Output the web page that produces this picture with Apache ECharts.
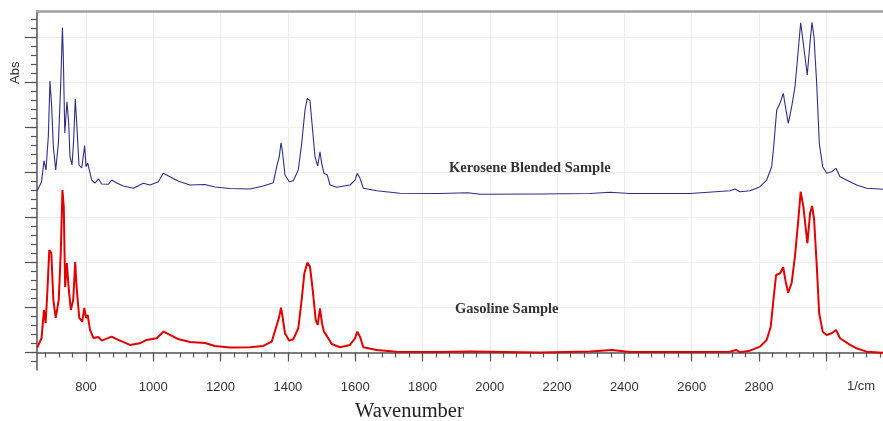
<!DOCTYPE html>
<html>
<head>
<meta charset="utf-8">
<script src="https://cdn.jsdelivr.net/npm/echarts@6/dist/echarts.min.js"></script>
<style>html,body{margin:0;padding:0;background:#fff;}#c{width:883px;height:421px;}</style>
</head>
<body>
<div id="c"></div>
<script>
// Wavenumber (1/cm) and absorbance (arbitrary offset units)
const keroseneWn = [655,668,675,681,688,693,698,703,710,718,725,730,732.5,737,743.5,748.6,752.4,758.4,763.4,768.2,772.4,779.2,787.2,796.1,800,805,809.8,816.9,826.7,837.7,846.7,866.3,876.4,891.2,910.9,940.6,970.3,990.2,1014.9,1029.7,1049.6,1073.4,1109,1153.7,1183.4,1228,1287.4,1327,1356.7,1366.8,1374.5,1379.5,1383.4,1391.4,1404.2,1416.1,1430.9,1441.1,1450.9,1457.7,1465.7,1472.6,1480.6,1488.6,1495.4,1500.5,1507.3,1517.2,1525.2,1545.1,1584.6,1599.5,1606.3,1614.3,1624.2,1663.9,1733.2,1852,1935.3,1971,2149,2297.9,2357.3,2416.8,2595,2714,2728.9,2743.7,2773.4,2803.1,2823,2837.9,2844.7,2852.8,2862.6,2872.4,2880.4,2887.2,2897.3,2907.1,2916.9,2924,2931.8,2943.6,2951.7,2957.6,2963.6,2971.6,2979.4,2989.5,3001.4,3016.3,3029,3040.9,3070.6,3090.5,3120.3,3168.7];
const keroseneAbs = [3.596,3.796,4.262,4.056,4.796,6.033,5.462,4.573,4.056,4.656,5.989,7.218,6.611,4.878,5.573,5.1,4.351,4.167,4.722,5.633,5.1,4.167,4.1,4.596,4.129,4.211,4.056,3.833,3.767,3.856,3.744,3.738,3.833,3.767,3.7,3.649,3.76,3.722,3.796,3.982,3.907,3.811,3.722,3.733,3.678,3.644,3.633,3.7,3.773,4.129,4.351,4.662,4.5,3.944,3.796,3.818,4.056,4.649,5.389,5.649,5.596,5.018,4.351,4.144,4.462,4.204,3.982,3.944,3.722,3.671,3.722,3.833,3.982,3.871,3.649,3.596,3.538,3.533,3.551,3.516,3.522,3.533,3.56,3.533,3.533,3.596,3.633,3.573,3.596,3.684,3.833,4.129,4.649,5.389,5.538,5.76,5.389,5.093,5.462,5.907,6.722,7.329,6.871,6.167,6.871,7.338,7.018,5.982,4.649,4.129,3.982,4.018,4.093,3.907,3.796,3.722,3.649,3.627];
const gasolineWn = [655,668,675,680,685,691,697,703,710,719,725,730,734,738,743,749,755,762,768,772,780,789,795,800,805,812,822,837,847,876,896,931,960,980,1010,1030,1050,1073,1109,1154,1183,1228,1287,1327,1352,1365,1374.5,1379.5,1383.4,1391.4,1404,1416,1431,1441,1449,1457.7,1465.7,1473.8,1482.7,1488.6,1495.4,1501.4,1507.3,1517.2,1530.3,1555,1584.6,1599.5,1606.3,1614.3,1624.2,1664,1723,1852,1941,2149,2298,2363,2417,2595,2714,2732,2744,2773,2803,2823,2835,2843,2851,2863,2872,2879.5,2887,2897,2907,2917,2924,2932,2944,2952,2958,2964,2972,2979,2989.5,3001,3016,3029,3041,3071,3090,3120,3169];
const gasolineAbs = [0.107,0.322,0.944,0.656,1.322,2.278,2.211,1.167,0.767,1.167,2.211,3.611,3.233,1.456,1.989,1.389,0.944,1.167,2.011,1.456,0.767,0.684,0.989,0.767,0.833,0.5,0.322,0.344,0.262,0.351,0.278,0.167,0.204,0.278,0.316,0.462,0.389,0.3,0.233,0.211,0.144,0.111,0.116,0.144,0.24,0.56,0.796,0.996,0.833,0.427,0.262,0.293,0.538,1.167,1.76,1.996,1.907,1.389,0.722,0.611,0.982,0.649,0.462,0.351,0.189,0.116,0.167,0.316,0.462,0.351,0.116,0.056,0.018,0.011,0.022,0,0.022,0.056,0.011,0.011,0.018,0.056,0.004,0.04,0.129,0.278,0.573,1.167,1.722,1.76,1.893,1.573,1.329,1.538,2.129,2.944,3.573,3.24,2.427,3.093,3.256,2.944,1.907,0.871,0.462,0.389,0.427,0.5,0.316,0.167,0.093,0.018,-0.004];
// Axis ticks
const xMajorTicks = [800,1000,1200,1400,1600,1800,2000,2200,2400,2600,2800,3000];
const xTickLabels = [800,1000,1200,1400,1600,1800,2000,2200,2400,2600,2800];
const xMinorTicks = [];
for (let v = 680; v <= 3160; v += 40) xMinorTicks.push(v);
const yMajorTicks = [0,1,2,3,4,5,6,7];
const yMinorTicks = [];
for (let i = -1; i <= 37; i++) yMinorTicks.push(Math.round(i * 0.2 * 10) / 10);

const X_MIN = 654.4, X_MAX = 3168.7, Y_MIN = -0.39, Y_MAX = 7.59;

const zip = (a, b) => a.map((v, i) => [v, b[i]]);

const chart = echarts.init(document.getElementById('c'), null, {renderer: 'canvas'});
const axisColor = '#555';
chart.setOption({
  animation: false,
  backgroundColor: '#fff',
  grid: {left: 37, right: 0, top: 11, bottom: 51},
  xAxis: [
    {type: 'value', min: X_MIN, max: X_MAX, position: 'bottom',
     axisLine: {show: true, lineStyle: {color: axisColor, width: 1.5}},
     axisTick: {show: true, customValues: xMinorTicks, length: 5, lineStyle: {color: axisColor, width: 1.2}},
     axisLabel: {show: false}, splitLine: {show: false}},
    {type: 'value', min: X_MIN, max: X_MAX, position: 'bottom',
     axisLine: {show: false},
     axisTick: {show: true, customValues: xMajorTicks, length: 9, lineStyle: {color: axisColor, width: 1.2}},
     axisLabel: {show: true, customValues: xTickLabels, formatter: v => String(v), color: '#333', fontSize: 13, fontFamily: 'Liberation Sans, Arial, sans-serif', margin: 11},
     splitLine: {show: true, lineStyle: {color: '#eeeef3', width: 1}}},
    {type: 'value', min: X_MIN, max: X_MAX, position: 'top',
     axisLine: {show: true, lineStyle: {color: '#a0a0a0', width: 2.5}},
     axisTick: {show: false}, axisLabel: {show: false}, splitLine: {show: false}}
  ],
  yAxis: [
    {type: 'value', min: Y_MIN, max: Y_MAX, position: 'left',
     axisLine: {show: true, lineStyle: {color: axisColor, width: 1.5}},
     axisTick: {show: true, customValues: yMinorTicks, length: 6, lineStyle: {color: axisColor, width: 1.2}},
     axisLabel: {show: false}, splitLine: {show: false}},
    {type: 'value', min: Y_MIN, max: Y_MAX, position: 'left',
     axisLine: {show: false},
     axisTick: {show: true, customValues: yMajorTicks, length: 12, lineStyle: {color: axisColor, width: 1.2}},
     axisLabel: {show: false},
     splitLine: {show: true, lineStyle: {color: '#eeeef3', width: 1}}}
  ],
  series: [
    {type: 'line', name: 'Kerosene Blended Sample', xAxisIndex: 0, yAxisIndex: 0,
     data: zip(keroseneWn, keroseneAbs), showSymbol: false, symbol: 'none',
     lineStyle: {color: '#2e2e88', width: 1.1}, clip: true, z: 3},
    {type: 'line', name: 'Gasoline Sample', xAxisIndex: 0, yAxisIndex: 0,
     data: zip(gasolineWn, gasolineAbs), showSymbol: false, symbol: 'none',
     lineStyle: {color: '#e00000', width: 2}, clip: true, z: 3}
  ],
  graphic: [
    {type: 'text', z: 100, left: 449, top: 161, style: {text: 'Kerosene Blended Sample', font: 'bold 14.5px "Liberation Serif", "Times New Roman", serif', fill: '#333'}},
    {type: 'text', z: 100, left: 455, top: 302, style: {text: 'Gasoline Sample', font: 'bold 14.5px "Liberation Serif", "Times New Roman", serif', fill: '#333'}},
    {type: 'text', z: 100, left: 355, top: 401, style: {text: 'Wavenumber', font: '20.5px "Liberation Serif", "Times New Roman", serif', fill: '#222'}},
    {type: 'text', z: 100, left: 847, top: 380, style: {text: '1/cm', font: '13px "Liberation Sans", Arial, sans-serif', fill: '#333'}},
    {type: 'text', z: 100, x: 9, y: 84, rotation: Math.PI / 2, style: {text: 'Abs', font: '13px "Liberation Sans", Arial, sans-serif', fill: '#333'}}
  ]
});
</script>
</body>
</html>
